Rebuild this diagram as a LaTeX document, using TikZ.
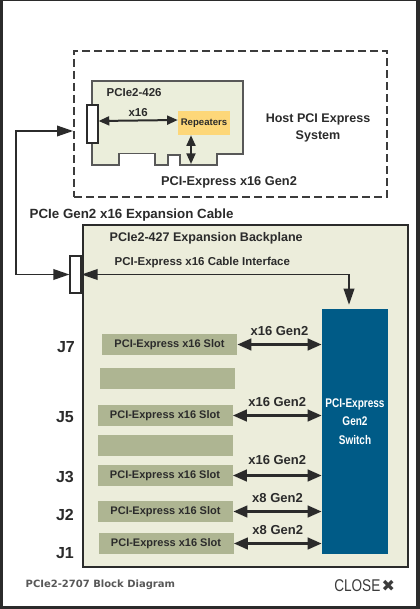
\documentclass[tikz,border=0pt]{standalone}
\usepackage{fontspec}
\setmainfont{Liberation Sans}
\newfontfamily\narrowfont[FakeStretch=0.8]{Liberation Sans}
\newfontfamily\dejavu{DejaVu Sans}
\usetikzlibrary{arrows.meta, positioning, calc}
\definecolor{framegray}{RGB}{43,43,43}
\definecolor{dashgray}{RGB}{60,60,60}
\definecolor{cardgreen}{RGB}{235,238,219}
\definecolor{planegreen}{RGB}{236,237,219}
\definecolor{slotolive}{RGB}{174,181,146}
\definecolor{switchblue}{RGB}{0,91,135}
\definecolor{repyellow}{RGB}{253,215,121}
\definecolor{captiongray}{RGB}{88,88,88}

\begin{document}
\begin{tikzpicture}[
        x=0.75pt, y=-0.75pt,
        every node/.style={font=\bfseries, text=framegray},
        hostbox/.style={rectangle, draw=dashgray, line width=1.5pt, dash pattern=on 6pt off 3pt, minimum width=234.75pt, minimum height=109.5pt, inner sep=0pt},
        connbox/.style={rectangle, draw=framegray, fill=white, line width=0.9pt, minimum width=8.25pt, inner sep=0pt},
        repbox/.style={rectangle, fill=repyellow, minimum width=39pt, minimum height=18pt, inner sep=0pt, font=\bfseries\fontsize{7.2}{8}\selectfont},
        backplane/.style={rectangle, draw=framegray, fill=planegreen, line width=1.1pt, minimum width=243.75pt, minimum height=256.5pt, inner sep=0pt},
        slot/.style={rectangle, fill=slotolive, minimum width=101.25pt, minimum height=15.75pt, inner sep=0pt, font=\bfseries\fontsize{8.25}{9}\selectfont},
        switchbox/.style={rectangle, fill=switchblue, minimum width=49.5pt, minimum height=183.75pt, inner sep=0pt},
        switchtext/.style={align=center, text=white, font=\narrowfont\bfseries\fontsize{9.4}{13.9}\selectfont},
        bigtext/.style={align=center, font=\bfseries\fontsize{9.4}{12.75}\selectfont},
        smalltext/.style={font=\bfseries\fontsize{8.6}{10}\selectfont},
        gentext/.style={font=\bfseries\fontsize{9.75}{11}\selectfont},
        jlbl/.style={font=\bfseries\fontsize{12}{13}\selectfont},
        cable/.style={line width=1.1pt, draw=framegray, {Triangle[length=12pt, width=8pt]}-{Triangle[length=12pt, width=8pt]}},
        cardarrow/.style={line width=1.5pt, draw=framegray, {Triangle[length=8pt, width=6.75pt]}-{Triangle[length=8pt, width=6.75pt]}},
        slotarrow/.style={line width=2.2pt, draw=framegray, {Triangle[length=10.5pt, width=8.5pt]}-{Triangle[length=10.5pt, width=8.5pt]}}
    ]
        % frame
        \useasboundingbox (0,0) rectangle (420,609);
        \fill[framegray] (0,0) rectangle (420,609);
        \fill[white] (3,1.5) rectangle (416,606);

        % host system
        \node[hostbox] (hostsys) at (230.5,124) {};
        \node[bigtext] (hostlbl) at (318,127.5) {Host PCI Express\\System};
        \draw[draw=captiongray, fill=cardgreen, line width=0.9pt] (92,81) -- (92,165) -- (119,165) -- (119,153.5) -- (155,153.5) -- (155,165) -- (168,165) -- (168,155) -- (180,155) -- (180,165) -- (217,165) -- (217,154) -- (243,154) -- (243,81) -- cycle;
        \node[connbox, minimum height=28.5pt] (cardconn) at (92.5,124) {};
        \node[repbox] (rep) at (204,123) {Repeaters};
        \node[smalltext, anchor=west] (cardname) at (102,93) {PCIe2-426};
        \coordinate (cardedge) at (191,164);
        \draw[cardarrow] ([yshift=2.25pt]cardconn.east) -- node[above=-1pt, smalltext] (x16lbl) {x16} ([yshift=2.25pt]rep.west);
        \draw[cardarrow] (rep.south -| cardedge) -- (cardedge);
        \node[bigtext, font=\bfseries\fontsize{9.6}{11}\selectfont] (hostbus) at (229,182) {PCI-Express x16 Gen2};

        % cable
        \node[font=\bfseries\fontsize{10}{12}\selectfont, anchor=west] (cablelbl) at (25,215) {PCIe Gen2 x16 Expansion Cable};
        \coordinate (cabtop) at (16,131);
        \coordinate (cabbot) at (16,274.5);

        % backplane
        \node[backplane] (bp) at (245.5,396) {};
        \node[connbox, minimum height=27.75pt] (bpconn) at (75.5,274.5) {};
        \draw[cable] (cabtop -| hostsys.west) -- (cabtop) -- (cabbot) -- (bpconn.west);
        \node[bigtext, anchor=west] (bplbl) at (105,238) {PCIe2-427 Expansion Backplane};
        \node[smalltext, anchor=west] (iflbl) at (110,263) {PCI-Express x16 Cable Interface};
        \node[switchbox] (sw) at (355,431.5) {};
        \node[switchtext] (swlbl) at (355,421.5) {PCI-Express\\Gen2\\Switch};
        \draw[cable] (bpconn.east) -| ([xshift=-4.5pt, yshift=3pt]sw.north);

        % slots
        \node[slot] (j7) at (169.5,344.5) {PCI-Express x16 Slot};
        \node[slot] (blanksix) at (167,378.5) {};
        \node[slot] (j5) at (165,415.5) {PCI-Express x16 Slot};
        \node[slot] (blankfour) at (165,445.5) {};
        \node[slot] (j3) at (165,475.5) {PCI-Express x16 Slot};
        \node[slot] (j2) at (165.5,511.5) {PCI-Express x16 Slot};
        \node[slot] (j1) at (166,543.5) {PCI-Express x16 Slot};

        \node[jlbl] (j7lbl) at (66,347) {J7};
        \node[jlbl] (j5lbl) at (65,417) {J5};
        \node[jlbl] (j3lbl) at (65,477) {J3};
        \node[jlbl] (j2lbl) at (65,515) {J2};
        \node[jlbl] (j1lbl) at (65,553) {J1};

        \draw[slotarrow] (j7.east) -- node[above=2pt, gentext] {x16 Gen2} (j7.east -| sw.west);
        \draw[slotarrow] (j5.east) -- node[above=2pt, gentext] {x16 Gen2} (j5.east -| sw.west);
        \draw[slotarrow] (j3.east) -- node[above=4pt, gentext] {x16 Gen2} (j3.east -| sw.west);
        \draw[slotarrow] (j2.east) -- node[above=2pt, gentext] {x8 Gen2} (j2.east -| sw.west);
        \draw[slotarrow] (j1.east) -- node[above=2pt, gentext] {x8 Gen2} (j1.east -| sw.west);

        % caption
        \node[anchor=west, text=captiongray, font=\dejavu\bfseries\fontsize{7.5}{9}\selectfont] (title) at (21,585) {PCIe2-2707 Block Diagram};
        \node[anchor=west, text=dashgray, font=\narrowfont\fontsize{12.75}{14}\selectfont, inner sep=0pt] (close) at (334,586) {CLOSE};
        \node[right=0.5pt of close, text=dashgray, font=\dejavu\fontsize{12}{13}\selectfont, inner sep=0pt] (closex) {✖};
    \end{tikzpicture}
\end{document}
